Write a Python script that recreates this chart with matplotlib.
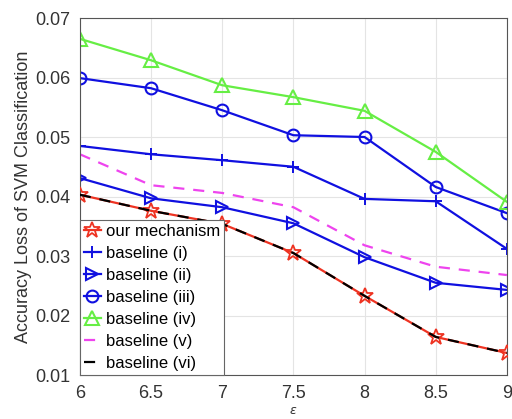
import matplotlib
matplotlib.use("Agg")
import matplotlib.pyplot as plt

plt.rcParams['font.family'] = ['Liberation Sans', 'DejaVu Sans']

eps = [6, 6.5, 7, 7.5, 8, 8.5, 9]
ours = [0.0403, 0.0376, 0.0354, 0.0305, 0.0233, 0.0164, 0.0137]
base_i = [0.0485, 0.0471, 0.0461, 0.0450, 0.0396, 0.0392, 0.0312]
base_ii = [0.0431, 0.0397, 0.0382, 0.0355, 0.0298, 0.0255, 0.0243]
base_iii = [0.0599, 0.0582, 0.0545, 0.0503, 0.0500, 0.0416, 0.0372]
base_iv = [0.0665, 0.0629, 0.0587, 0.0567, 0.0544, 0.0475, 0.0391]
base_v = [0.0471, 0.0419, 0.0406, 0.0382, 0.0318, 0.0282, 0.0268]
base_vi = [0.0403, 0.0376, 0.0354, 0.0305, 0.0233, 0.0164, 0.0137]

labels = ['our mechanism', 'baseline (i)', 'baseline (ii)', 'baseline (iii)',
          'baseline (iv)', 'baseline (v)', 'baseline (vi)']

fig = plt.figure(figsize=(5.12, 4.19), dpi=100)
ax = fig.add_axes([0.156, 0.105, 0.834, 0.852])

blue = '#1010e0'
green = '#66ee44'
lw = 1.6
ax.plot(eps, ours, color='#ee3322', lw=lw, marker='*', ms=12, mfc='none', mew=1.3, label=labels[0], zorder=3)
ax.plot(eps, base_i, color=blue, lw=lw, marker='+', ms=9, mew=1.4, label=labels[1])
ax.plot(eps, base_ii, color=blue, lw=lw, marker='>', ms=8.5, mfc='none', mew=1.5, label=labels[2])
ax.plot(eps, base_iii, color=blue, lw=lw, marker='o', ms=8.5, mfc='none', mew=1.5, label=labels[3])
ax.plot(eps, base_iv, color=green, lw=lw, marker='^', ms=9.5, mfc='none', mew=1.5, label=labels[4])
ax.plot(eps, base_v, color='#ee44ee', lw=lw, ls=(0, (5, 4)), label=labels[5])
ax.plot(eps, base_vi, color='black', lw=lw, ls=(0, (5, 4)), label=labels[6], zorder=4)

ax.set_xlim(6, 9)
ax.set_ylim(0.01, 0.07)
ax.set_xticks(eps)
ax.set_xticklabels(['6', '6.5', '7', '7.5', '8', '8.5', '9'])
ax.set_yticks([0.01, 0.02, 0.03, 0.04, 0.05, 0.06, 0.07])
ax.set_yticklabels(['0.01', '0.02', '0.03', '0.04', '0.05', '0.06', '0.07'])
ax.tick_params(labelsize=13, colors='#333333', length=0, pad=7)
ax.grid(True, color='#e4e4e4', lw=0.8)
ax.set_axisbelow(True)
for s in ax.spines.values():
    s.set_color('#555555')
    s.set_linewidth(0.8)

ax.set_xlabel(r'$\epsilon$', fontsize=9, color='#333333', labelpad=2)
ax.set_ylabel('Accuracy Loss of SVM Classification', fontsize=13, color='#333333', labelpad=2)

leg = ax.legend(loc='lower left', fontsize=12, handlelength=1.0, handletextpad=0.3,
                borderaxespad=0, borderpad=0.25, labelspacing=0.42, frameon=True,
                fancybox=False, framealpha=1, edgecolor='#666666')
leg.get_frame().set_linewidth(0.8)

fig.savefig('out.png', dpi=100)
